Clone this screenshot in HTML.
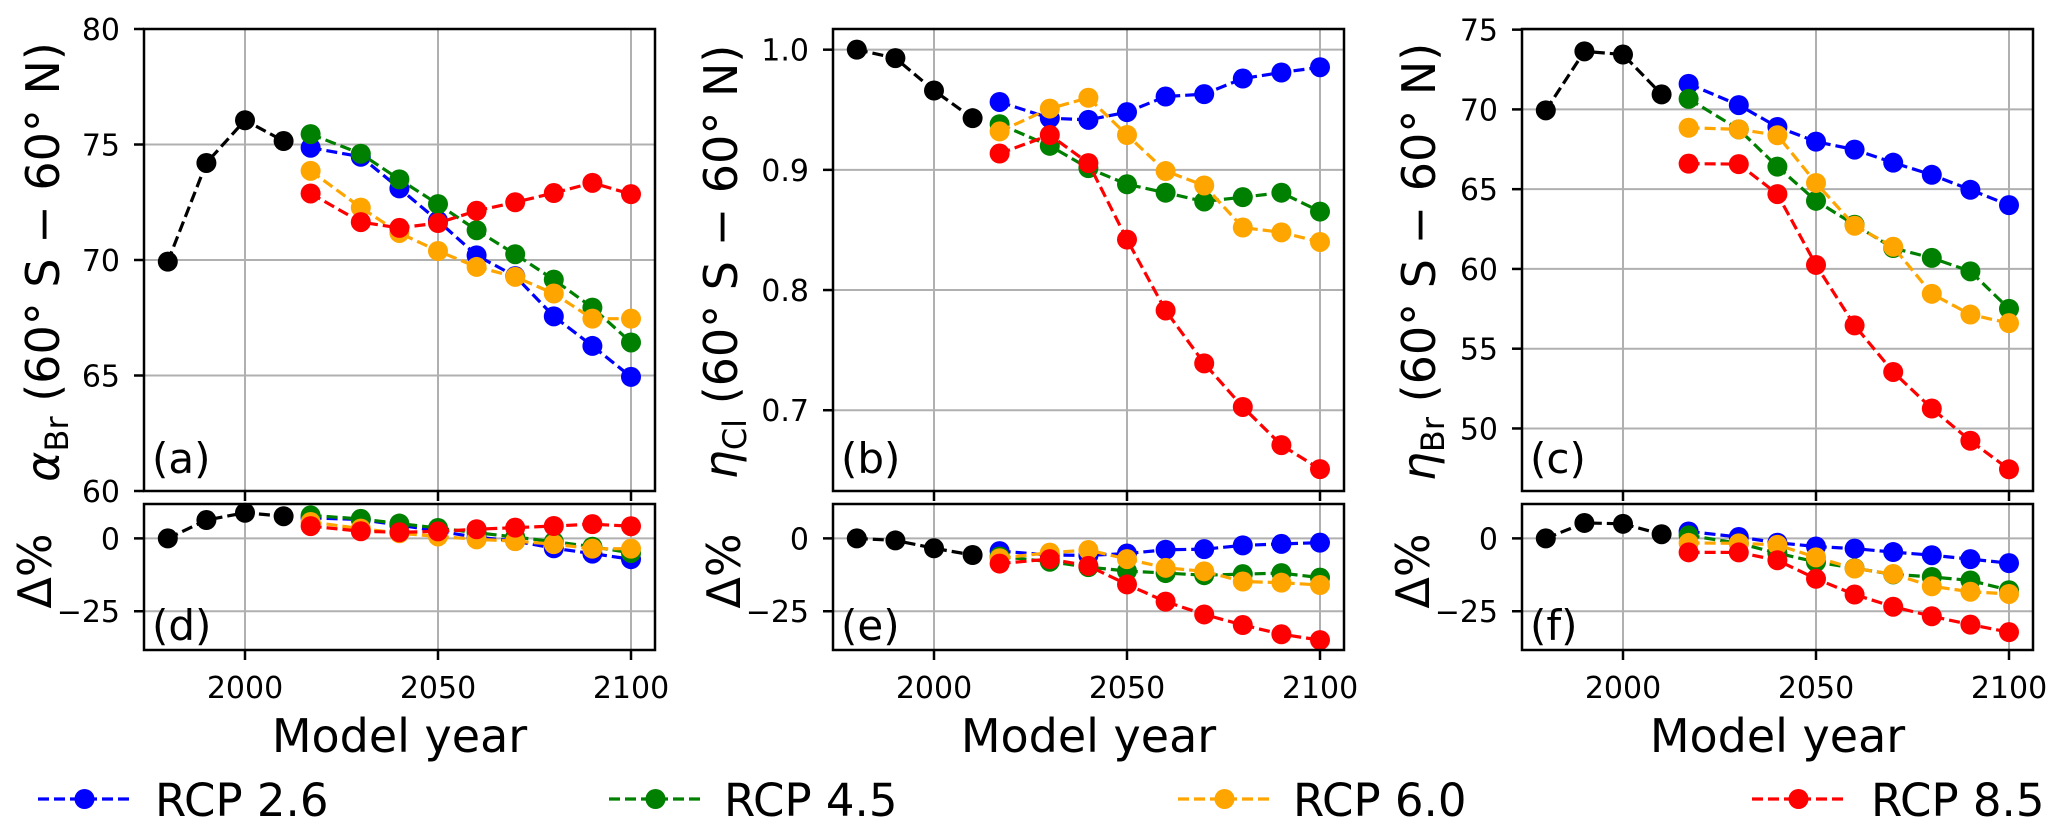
<!DOCTYPE html>
<html><head><meta charset="utf-8"><style>
html,body{margin:0;padding:0;background:#fff}
svg text{font-family:"DejaVu Sans","Liberation Sans",sans-serif;fill:#000}
</style></head><body>
<svg id="fig" xmlns="http://www.w3.org/2000/svg" width="2067" height="834" viewBox="0 0 2067 834"></svg>
<script>
// ---- data ----
const histYears = [1980, 1990, 2000, 2010];
const rcpYears = [2017, 2030, 2040, 2050, 2060, 2070, 2080, 2090, 2100];
const seriesNames = ['RCP 2.6', 'RCP 4.5', 'RCP 6.0', 'RCP 8.5'];
// panel a: alpha_Br
const aHist = [69.93, 74.2, 76.05, 75.15];
const aRcp26 = [74.86, 74.47, 73.1, 71.7, 70.2, 69.3, 67.56, 66.28, 64.94];
const aRcp45 = [75.45, 74.6, 73.49, 72.42, 71.29, 70.25, 69.15, 67.94, 66.43];
const aRcp60 = [73.86, 72.27, 71.17, 70.39, 69.7, 69.27, 68.55, 67.46, 67.46];
const aRcp85 = [72.88, 71.64, 71.39, 71.6, 72.13, 72.5, 72.9, 73.34, 72.85];
// panel b: eta_Cl
const bHist = [1.0, 0.993, 0.966, 0.943];
const bRcp26 = [0.9565, 0.943, 0.9416, 0.948, 0.961, 0.963, 0.976, 0.981, 0.9854];
const bRcp45 = [0.938, 0.920, 0.9014, 0.888, 0.881, 0.8737, 0.8773, 0.881, 0.8653];
const bRcp60 = [0.932, 0.951, 0.960, 0.929, 0.899, 0.887, 0.852, 0.848, 0.840];
const bRcp85 = [0.9136, 0.929, 0.9056, 0.842, 0.783, 0.739, 0.7027, 0.671, 0.651];
// panel c: eta_Br
const cHist = [69.94, 73.64, 73.44, 70.94];
const cRcp26 = [71.6, 70.27, 68.9, 67.98, 67.48, 66.66, 65.9, 64.96, 64.0];
const cRcp45 = [70.66, 68.75, 66.41, 64.27, 62.77, 61.31, 60.69, 59.85, 57.5];
const cRcp60 = [68.85, 68.75, 68.38, 65.39, 62.71, 61.39, 58.44, 57.14, 56.6];
const cRcp85 = [66.6, 66.57, 64.69, 60.25, 56.46, 53.54, 51.25, 49.23, 47.44];
// panel d: delta % alpha_Br
const dHist = [0, 6.3, 8.8, 7.6];
const dRcp26 = [7.05, 6.49, 4.53, 2.53, 0.39, -0.9, -3.39, -5.22, -7.14];
const dRcp45 = [7.89, 6.68, 5.09, 3.56, 1.94, 0.46, -1.12, -2.85, -5.0];
const dRcp60 = [5.62, 3.35, 1.77, 0.66, -0.33, -0.94, -1.97, -3.53, -3.53];
const dRcp85 = [4.22, 2.45, 2.09, 2.39, 3.15, 3.68, 4.25, 4.88, 4.18];
// panel e: delta % eta_Cl
const eHist = [0, -0.7, -3.4, -5.7];
const eRcp26 = [-4.35, -5.7, -5.84, -5.2, -3.9, -3.7, -2.4, -1.9, -1.46];
const eRcp45 = [-6.2, -8.0, -9.86, -11.2, -11.9, -12.63, -12.27, -11.9, -13.47];
const eRcp60 = [-6.8, -4.9, -4.0, -7.1, -10.1, -11.3, -14.8, -15.2, -16.0];
const eRcp85 = [-8.64, -7.1, -9.44, -15.8, -21.7, -26.1, -29.73, -32.9, -34.9];
// panel f: delta % eta_Br
const fHist = [0, 5.3, 5.0, 1.43];
const fRcp26 = [2.37, 0.47, -1.49, -2.8, -3.52, -4.69, -5.78, -7.12, -8.49];
const fRcp45 = [1.03, -1.7, -5.05, -8.1, -10.25, -12.34, -13.23, -14.43, -17.79];
const fRcp60 = [-1.56, -1.7, -2.23, -6.51, -10.34, -12.22, -16.44, -18.3, -19.07];
const fRcp85 = [-4.78, -4.82, -7.51, -13.86, -19.27, -23.45, -26.72, -29.6, -32.17];
const xTicks = [2000, 2050, 2100];
const aTicks = [60, 65, 70, 75, 80];
const bTicks = [0.7, 0.8, 0.9, 1.0];
const cTicks = [50, 55, 60, 65, 70, 75];
const dTicks = [0, -25];

const NS = 'http://www.w3.org/2000/svg';
const svg = document.getElementById('fig');
const colors = ['blue', 'green', 'orange', 'red'];
function mk(tag, attrs, parent) {
  const e = document.createElementNS(NS, tag);
  for (const k in attrs) e.setAttribute(k, attrs[k]);
  (parent || svg).appendChild(e);
  return e;
}
const TOP = {y0: 29, y1: 491}, BOT = {y0: 504, y1: 650};
function xScale(off) { return yr => 245 + off + (yr - 2000) * 3.86; }

function panel(idx, row, letter, yMin, yMax, ticks, tickFmt, hist, rcps) {
  const off = idx * 689;
  const L = 144 + off, R = 655 + off;
  const box = row === 0 ? TOP : BOT;
  const X = xScale(off);
  const Y = v => box.y1 - (v - yMin) / (yMax - yMin) * (box.y1 - box.y0);
  const g = mk('g', {});
  
  
  xTicks.forEach(t => {
    const l = mk('line', {x1: X(t), x2: X(t), y1: box.y0, y2: box.y1, stroke: '#b0b0b0', 'stroke-width': 2}, g);
    
    
    const tk = mk('line', {x1: X(t), x2: X(t), y1: box.y1, y2: box.y1 + 10, stroke: '#000', 'stroke-width': 2.5}, g);
    
    
    if (row === 1) {
      const tl = mk('text', {x: X(t), y: 698, 'font-size': 30, 'text-anchor': 'middle'}, g);
      tl.textContent = t;
      
      
    }
  });
  ticks.forEach(t => {
    const y = Y(t);
    const l = mk('line', {x1: L, x2: R, y1: y, y2: y, stroke: '#b0b0b0', 'stroke-width': 2}, g);
    
    
    const tk = mk('line', {x1: L - 10, x2: L, y1: y, y2: y, stroke: '#000', 'stroke-width': 2.5}, g);
    
    
    const tl = mk('text', {x: L - 24, y: y + 11, 'font-size': 30, 'text-anchor': 'end'}, g);
    tl.textContent = tickFmt(t);
    
    
  });
  function series(years, vals, col, name) {
    const sg = mk('g', {}, g);
    
    
    const pts = years.map((yr, i) => X(yr) + ',' + Y(vals[i])).join(' ');
    mk('polyline', {points: pts, fill: 'none', stroke: col, 'stroke-width': 3.2, 'stroke-dasharray': '11 5'}, sg);
    years.forEach((yr, i) => {
      const c = mk('circle', {cx: X(yr), cy: Y(vals[i]), r: 10, fill: col}, sg);
      
      
    });
  }
  series(histYears, hist, 'black', 'historical-series');
  rcps.forEach((v, i) => series(rcpYears, v, colors[i], 'series-' + seriesNames[i].replace(/[ .]/g, '').toLowerCase()));
  const fr = mk('rect', {x: L, y: box.y0, width: R - L, height: box.y1 - box.y0, fill: 'none', stroke: '#000', 'stroke-width': 2.5}, g);
  
  
  const lt = mk('text', {x: L + 8, y: row === 0 ? 473 : 640, 'font-size': 42}, g);
  lt.textContent = '(' + letter + ')';
  
  
  if (row === 1) {
    const xl = mk('text', {x: (L + R) / 2, y: 752, 'font-size': 46, 'text-anchor': 'middle'}, g);
    xl.textContent = 'Model year';
    
    
    const dl = mk('text', {x: 0, y: 0, 'font-size': 46, 'text-anchor': 'middle', transform: 'translate(' + (51 + off) + ',571) rotate(-90)'}, g);
    dl.textContent = 'Δ%';
    
    
  }
}

const fmt0 = t => (t < 0 ? '\u2212' + Math.abs(t) : '' + t);
panel(0, 0, 'a', 60, 80, aTicks, fmt0, aHist, [aRcp26, aRcp45, aRcp60, aRcp85]);
panel(1, 0, 'b', 0.6328, 1.0172, bTicks, t => t.toFixed(1), bHist, [bRcp26, bRcp45, bRcp60, bRcp85]);
panel(2, 0, 'c', 46.08, 75.04, cTicks, fmt0, cHist, [cRcp26, cRcp45, cRcp60, cRcp85]);
panel(0, 1, 'd', -38.3, 11.8, dTicks, fmt0, dHist, [dRcp26, dRcp45, dRcp60, dRcp85]);
panel(1, 1, 'e', -38.3, 11.8, dTicks, fmt0, eHist, [eRcp26, eRcp45, eRcp60, eRcp85]);
panel(2, 1, 'f', -38.3, 11.8, dTicks, fmt0, fHist, [fRcp26, fRcp45, fRcp60, fRcp85]);

const yTitles = [{x: 59, sym: 'α', sub: 'Br'}, {x: 737, sym: 'η', sub: 'Cl'}, {x: 1435, sym: 'η', sub: 'Br'}];
yTitles.forEach((t, i) => {
  const tx = mk('text', {x: 0, y: 0, 'font-size': 46, 'text-anchor': 'middle', transform: 'translate(' + t.x + ',262) rotate(-90)'});
  
  
  const s1 = mk('tspan', {'font-style': 'italic'}, tx); s1.textContent = t.sym;
  const s2 = mk('tspan', {'font-size': 32, dy: 9}, tx); s2.textContent = t.sub;
  const s3 = mk('tspan', {dy: -9}, tx); s3.textContent = ' (60° S − 60° N)';
});

const legX = [38, 609, 1178, 1752];
const legTextX = [155, 724, 1293, 1871];
seriesNames.forEach((n, i) => {
  const lg = mk('g', {});
  
  
  mk('line', {x1: legX[i], x2: legX[i] + 93, y1: 799, y2: 799, stroke: colors[i], 'stroke-width': 3.2, 'stroke-dasharray': '11 5'}, lg);
  mk('circle', {cx: legX[i] + 46.5, cy: 799, r: 10, fill: colors[i]}, lg);
  const tx = mk('text', {x: legTextX[i], y: 816, 'font-size': 45}, lg);
  tx.textContent = n;
});
</script>
</body></html>
